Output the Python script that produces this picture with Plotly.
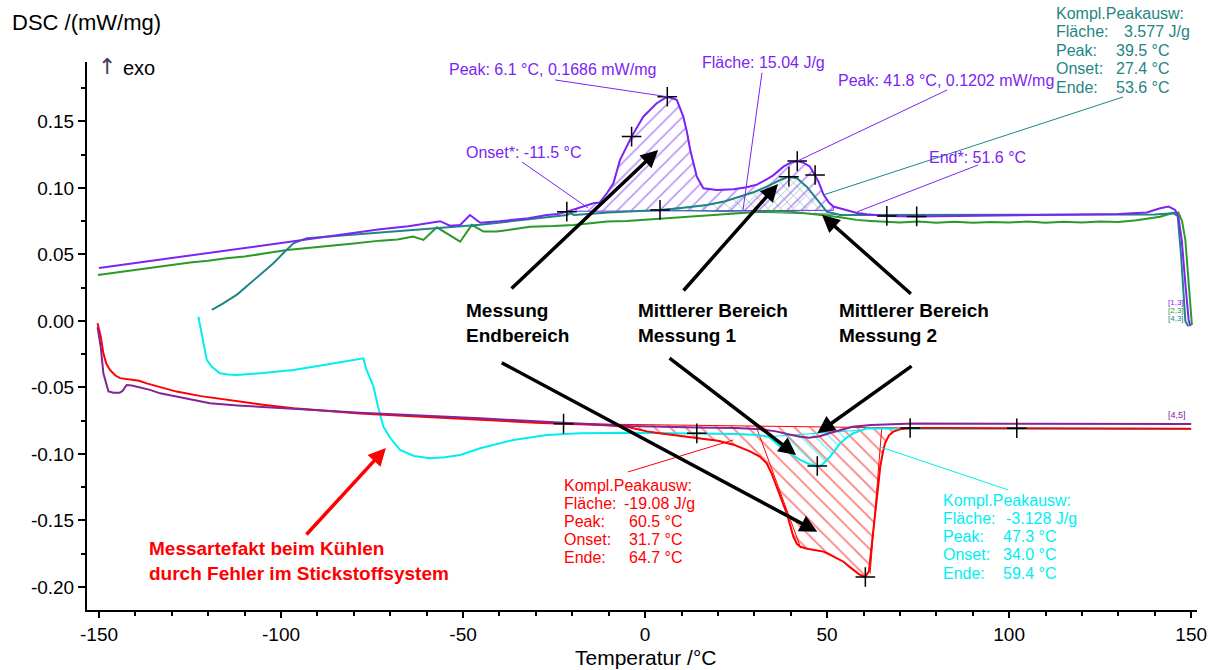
import numpy as np
import plotly.graph_objects as go

FONT = "Liberation Sans, Arial, sans-serif"

VIOLET = "#7b24f5"
TEAL = "#1f8585"
GREEN = "#2a9a2a"
RED = "#ff0000"
PURPLE = "#842494"
CYAN = "#00eef2"

# ---------------- DSC curves: temperature (°C) / DSC (mW/mg) ----------------
# heating run, end range (violet)
violet_T = [-150, -140, -130, -120, -110, -100, -90, -80, -72.8, -65, -61, -59.1, -56.3, -53.6,
            -50.8, -48.1, -45.3, -40, -36.2, -32, -27, -24, -21.5, -17, -14.2, -12.5, -10.5,
            -8.7, -6.9, -3.7, -0.5, 3.2, 6.1, 8.7, 10.5, 11.5, 12.4, 14.2, 16.0, 19.7, 24.3,
            27.9, 30.7, 33.4, 35.2, 38.0, 39.8, 41.8, 43.5, 45.3, 46.7, 47.6, 49.0, 50.5, 51.7,
            55.4, 58.2, 60.9, 64.6, 66.4, 74.6, 90, 110, 130, 137.8, 141.5, 143.8, 145.6,
            146.5, 147.4, 148.5, 149.3, 149.8]
violet_dsc = [0.0398, 0.0436, 0.0472, 0.0511, 0.0549, 0.0585, 0.0625, 0.0660, 0.0689, 0.0712,
              0.0728, 0.0740, 0.0750, 0.0716, 0.0722, 0.0797, 0.0739, 0.0750, 0.0759, 0.0772,
              0.0797, 0.0805, 0.0822, 0.0858, 0.0885, 0.0890, 0.0960, 0.1035, 0.1210, 0.1386,
              0.1536, 0.1637, 0.1686, 0.1662, 0.1536, 0.1420, 0.1286, 0.1085, 0.0997, 0.0985,
              0.0990, 0.1005, 0.1025, 0.1065, 0.1095, 0.1160, 0.1188, 0.1202, 0.1190, 0.1160,
              0.1098, 0.1050, 0.0950, 0.0890, 0.0860, 0.0830, 0.0812, 0.0802, 0.0792, 0.0790,
              0.0786, 0.0790, 0.0795, 0.0805, 0.0815, 0.0847, 0.0860, 0.0835, 0.0780, 0.0610,
              0.0250, 0.0008, -0.0040]

# heating run, middle range 1 (teal)
teal_T = [-119.0, -116, -112, -109.4, -105.5, -102.1, -99, -96.6, -94, -92.9, -85, -72.8, -60,
          -45.3, -30, -21.5, -20.5, -19.5, -10, 4.1, 10, 17, 22, 26.1, 30, 33.4, 37.1, 39.5,
          41.7, 44.4, 47.2, 49.9, 53.6, 60, 100, 140, 145, 146.3, 147.2, 148.4, 149.2]
teal_dsc = [0.0083, 0.0130, 0.0200, 0.0262, 0.0350, 0.0434, 0.0520, 0.0584, 0.0612, 0.0622,
            0.0638, 0.0664, 0.0692, 0.0724, 0.0770, 0.0797, 0.0810, 0.0797, 0.0815, 0.0835,
            0.0850, 0.0872, 0.0900, 0.0935, 0.0970, 0.1010, 0.1060, 0.1085, 0.1073, 0.1010,
            0.0910, 0.0822, 0.0797, 0.0797, 0.0797, 0.0800, 0.0810, 0.0790, 0.0500, 0.0000,
            -0.0040]

# heating run, middle range 2 (green)
green_T = [-150.3, -145, -140, -135, -130, -125, -120, -115, -110, -105, -98.4, -92, -85, -80,
           -72.8, -68, -63.7, -60.9, -57.2, -54.5, -50.8, -47.6, -44.4, -40.7, -36.2, -31.6,
           -25.2, -19.7, -15, -10.5, -5, -1.4, 3, 7.8, 12, 17, 22, 26, 31, 35, 40, 44, 49,
           53.6, 58, 62, 65, 70, 75, 80, 85, 90, 95, 100, 105, 110, 115, 120, 125, 130, 135,
           139, 141.5, 143.5, 145.1, 146.5, 147.5, 148.4, 149.3, 150.2]
green_dsc = [0.0346, 0.0366, 0.0381, 0.0403, 0.0417, 0.0439, 0.0453, 0.0472, 0.0484, 0.0506,
             0.0534, 0.0550, 0.0572, 0.0583, 0.0604, 0.0613, 0.0634, 0.0609, 0.0704, 0.0660,
             0.0596, 0.0722, 0.0672, 0.0672, 0.0690, 0.0709, 0.0714, 0.0722, 0.0735, 0.0747,
             0.0752, 0.0759, 0.0766, 0.0772, 0.0782, 0.0790, 0.0802, 0.0812, 0.0822, 0.0827,
             0.0822, 0.0812, 0.0795, 0.0780, 0.0760, 0.0752, 0.0748, 0.0740, 0.0747, 0.0739,
             0.0746, 0.0738, 0.0745, 0.0740, 0.0747, 0.0739, 0.0746, 0.0740, 0.0748, 0.0745,
             0.0757, 0.0772, 0.0784, 0.0800, 0.0814, 0.0815, 0.0750, 0.0610, 0.0300, -0.0030]

# cooling run, end range (red)
red_T = [-150.4, -149.5, -148.8, -148, -147, -145.5, -144.2, -141.5, -139, -136.9, -132, -128.7,
         -122, -115, -105, -96.6, -87, -78.3, -60, -45, -37, -30, -22.4, -12, -5, 0.5, 5, 9.6,
         14.2, 20, 24.3, 28.8, 31.5, 33.4, 34.8, 36.2, 37.6, 38.9, 40.0, 40.7, 41.7, 42.6, 44.5,
         46.2, 47.6, 49.0, 50.3, 51.7, 53.0, 54.5, 56.0, 57.2, 58.8, 60.5, 61.5, 62.0, 62.7,
         63.7, 64.6, 65.3, 65.9, 67.0, 68.2, 70.0, 72.8, 80, 100, 120, 150]
red_dsc = [-0.0017, -0.0120, -0.0243, -0.0320, -0.0368, -0.0410, -0.0430, -0.0439, -0.0450,
           -0.0469, -0.0505, -0.0531, -0.0565, -0.0594, -0.0630, -0.0657, -0.0678, -0.0695,
           -0.0722, -0.0745, -0.0758, -0.0765, -0.0772, -0.0782, -0.0795, -0.0830, -0.0848,
           -0.0865, -0.0880, -0.0900, -0.0930, -0.0980, -0.1020, -0.1070, -0.1150, -0.1246,
           -0.1350, -0.1446, -0.1550, -0.1620, -0.1675, -0.1697, -0.1712, -0.1720, -0.1730,
           -0.1734, -0.1750, -0.1770, -0.1790, -0.1810, -0.1845, -0.1870, -0.1905, -0.1925,
           -0.1880, -0.1750, -0.1570, -0.1320, -0.1095, -0.0990, -0.0920, -0.0860, -0.0832,
           -0.0815, -0.0805, -0.0805, -0.0807, -0.0808, -0.0810]

# cooling run, middle range 2 (purple)
purple_T = [-150.4, -149.5, -148.8, -148, -147.4, -146, -144.4, -143.6, -143, -142.4, -141,
            -139.6, -136, -133.2, -126, -119.5, -112, -105.8, -92, -78.3, -60, -45.3, -22.4,
            -4.1, 14.2, 25, 32, 36, 39, 42.6, 45, 48, 51, 54, 57, 62, 73.7, 100, 150]
purple_dsc = [-0.0047, -0.0200, -0.0393, -0.0480, -0.0530, -0.0540, -0.0540, -0.0528, -0.0500,
              -0.0481, -0.0486, -0.0494, -0.0518, -0.0544, -0.0585, -0.0619, -0.0635, -0.0644,
              -0.0668, -0.0690, -0.0712, -0.0732, -0.0765, -0.0790, -0.0800, -0.0805, -0.0815,
              -0.0830, -0.0850, -0.0870, -0.0877, -0.0866, -0.0840, -0.0815, -0.0795, -0.0782,
              -0.0770, -0.0772, -0.0775]

# cooling run, middle range 1 with nitrogen fault (cyan)
cyan_T = [-122.7, -122.0, -121.3, -120.4, -119.0, -116.8, -114.5, -112.2, -105, -96.6, -87,
          -77.4, -76.6, -75.5, -74.6, -73.3, -71.9, -70.0, -67.3, -63.5, -59.1, -55.0, -50.8,
          -45.3, -40, -36.2, -27, -17.9, -4.1, 14.2, 25, 31, 34.0, 37.1, 40, 42.6, 45, 47.3,
          48.5, 50.8, 53.6, 55.5, 57.2, 59.4, 60.9, 70, 150]
cyan_dsc = [0.0032, -0.0060, -0.0170, -0.0293, -0.0345, -0.0393, -0.0403, -0.0406, -0.0392,
            -0.0368, -0.0326, -0.0281, -0.0360, -0.0430, -0.0494, -0.0650, -0.0794, -0.0880,
            -0.0970, -0.1015, -0.1032, -0.1025, -0.1008, -0.0957, -0.0920, -0.0895, -0.0857,
            -0.0845, -0.0840, -0.0845, -0.0850, -0.0858, -0.0870, -0.0945, -0.0995, -0.1045,
            -0.1075, -0.1090, -0.1085, -0.1020, -0.0920, -0.0875, -0.0845, -0.0820, -0.0807,
            -0.0810, -0.0812]

# evaluation marks (temperatures of the "+" markers on each curve)
violet_marks = [-21.5, -3.7, 6.1, 41.8, 46.7, 66.4, 74.6]
teal_marks = [4.1, 39.5]
red_marks = [-22.4, 60.5, 72.8, 102.1]
cyan_marks = [14.2, 47.3]

# integration limits and baseline values of the hatched peak areas
violet_area = (-19.0, 51.7, 0.0825, 0.0832)
teal_area = (4.1, 55.0, 0.0835, 0.0800)
red_area = (-22.4, 72.8, None, None)
cyan_area = (34.0, 59.4, None, None)

# red onset / end tangents
red_tangent_T = [[30.6, 42.8], [65.0, 61.8]]
red_tangent_dsc = [[-0.0800, -0.1710], [-0.0807, -0.1900]]

x_ticks = [-150, -100, -50, 0, 50, 100, 150]
x_ticktext = ["-150", "-100", "-50", "0", "50", "100", "150"]
y_ticks = [-0.20, -0.15, -0.10, -0.05, 0.00, 0.05, 0.10, 0.15]
y_ticktext = ["-0.20", "-0.15", "-0.10", "-0.05", "0.00", "0.05", "0.10", "0.15"]

# ---------------- figure geometry ----------------
W, H = 1220, 670
L, R, T, B = 87, 23, 62, 60
PW, PH = W - L - R, H - T - B


def at(px, py):
    """pixel position on the page -> paper coordinates"""
    return (px - L) / PW, (H - B - py) / PH


def area_polygon(Tc, vc, spec):
    t0, t1, b0, b1 = spec
    Tc = np.asarray(Tc, float)
    vc = np.asarray(vc, float)
    inside = (Tc > t0) & (Tc < t1)
    y0, y1 = np.interp(t0, Tc, vc), np.interp(t1, Tc, vc)
    if b0 is None:
        b0, b1 = y0, y1
    xs = np.concatenate([[t0], Tc[inside], [t1, t1, t0, t0]])
    ys = np.concatenate([[y0], vc[inside], [y1, b1, b0, y0]])
    return xs, ys


fig = go.Figure()

# hatched peak areas
for Tc, vc, spec, col, shp, sz in [
    (violet_T, violet_dsc, violet_area, VIOLET, "/", 10),
    (teal_T, teal_dsc, teal_area, TEAL, "x", 9),
    (red_T, red_dsc, red_area, RED, "\\", 11),
    (cyan_T, cyan_dsc, cyan_area, CYAN, "\\", 10),
]:
    xs, ys = area_polygon(Tc, vc, spec)
    fig.add_trace(go.Scatter(
        x=xs, y=ys, mode="lines", fill="toself", fillcolor="rgba(0,0,0,0)",
        fillpattern=dict(shape=shp, fgcolor=col, bgcolor="rgba(0,0,0,0)", size=sz,
                         solidity=0.16),
        line=dict(color=col, width=1), hoverinfo="skip", showlegend=False))

for tx, ty in zip(red_tangent_T, red_tangent_dsc):
    fig.add_trace(go.Scatter(x=tx, y=ty, mode="lines", line=dict(color=RED, width=1),
                             hoverinfo="skip", showlegend=False))

# curves
for Tc, vc, col in [
    (green_T, green_dsc, GREEN),
    (teal_T, teal_dsc, TEAL),
    (violet_T, violet_dsc, VIOLET),
    (cyan_T, cyan_dsc, CYAN),
    (red_T, red_dsc, RED),
    (purple_T, purple_dsc, PURPLE),
]:
    fig.add_trace(go.Scatter(x=Tc, y=vc, mode="lines", line=dict(color=col, width=2),
                             showlegend=False))

# evaluation crosses
mx, my = [], []
for Tc, vc, marks in [(violet_T, violet_dsc, violet_marks), (teal_T, teal_dsc, teal_marks),
                      (red_T, red_dsc, red_marks), (cyan_T, cyan_dsc, cyan_marks)]:
    mx += list(marks)
    my += list(np.interp(marks, Tc, vc))
fig.add_trace(go.Scatter(x=mx, y=my, mode="markers", showlegend=False,
                         marker=dict(symbol="cross-thin", size=14, color="black",
                                     line=dict(color="black", width=1.5))))

# leader lines from the labels to the curves
leaders = [
    ((-24.7, 0.1812), (6.1, 0.1686), VIOLET),
    ((-33.8, 0.1195), (-15.7, 0.0850), VIOLET),
    ((32.1, 0.1865), (26.9, 0.0835), VIOLET),
    ((83.0, 0.1737), (41.8, 0.1202), VIOLET),
    ((91.5, 0.1173), (58.2, 0.0820), VIOLET),
    ((131.3, 0.1684), (48.9, 0.0947), TEAL),
    ((-4.7, -0.1135), (24.2, -0.0895), RED),
    ((99.7, -0.1270), (64.6, -0.0947), CYAN),
]
shapes = [dict(type="line", xref="x", yref="y", x0=a[0], y0=a[1], x1=b[0], y1=b[1],
               line=dict(color=c, width=1)) for a, b, c in leaders]

annotations = []


def label(text, px, py, color, size=16, bold=False, anchor="left", family=FONT):
    xp, yp = at(px, py)
    annotations.append(dict(
        text=f"<b>{text}</b>" if bold else text, x=xp, y=yp, xref="paper", yref="paper",
        xanchor=anchor, yanchor="middle", showarrow=False,
        font=dict(family=family, size=size, color=color)))


# axis titles
label("DSC /(mW/mg)", 10, 22, "black", size=22)
label("↑", 107, 67, "#3c3c50", size=22, anchor="center", family="DejaVu Sans, sans-serif")
label("exo", 121, 68, "black", size=20)
label("Temperatur /°C", 645, 658, "black", size=21, anchor="center")

# violet evaluation texts
label("Peak: 6.1 °C, 0.1686 mW/mg", 447, 70, VIOLET)
label("Onset*: -11.5 °C", 464, 152, VIOLET)
label("Fläche: 15.04 J/g", 700, 63, VIOLET)
label("Peak: 41.8 °C, 0.1202 mW/mg", 836, 80, VIOLET)
label("End*: 51.6 °C", 927, 157, VIOLET)


def block(x0, x1, y0, dy, values, color):
    names = ["Fläche:", "Peak:", "Onset:", "Ende:"]
    label("Kompl.Peakausw:", x0, y0, color)
    for i, (n, v) in enumerate(zip(names, values)):
        label(n, x0, y0 + dy * (i + 1), color)
        label(v, x1[i], y0 + dy * (i + 1), color)


block(1054, [1122, 1114, 1114, 1114], 13, 18.6, ["3.577 J/g", "39.5 °C", "27.4 °C", "53.6 °C"], TEAL)
block(562, [622, 627, 627, 627], 485, 18.0, ["-19.08 J/g", "60.5 °C", "31.7 °C", "64.7 °C"], RED)
block(941, [1004, 1001, 1001, 1001], 500, 18.3, ["-3.128 J/g", "47.3 °C", "34.0 °C", "59.4 °C"], CYAN)

# bold explanations
label("Messung", 464, 310, "black", size=19, bold=True)
label("Endbereich", 464, 335, "black", size=19, bold=True)
label("Mittlerer Bereich", 636, 310, "black", size=19, bold=True)
label("Messung 1", 636, 335, "black", size=19, bold=True)
label("Mittlerer Bereich", 837, 310, "black", size=19, bold=True)
label("Messung 2", 837, 335, "black", size=19, bold=True)
label("Messartefakt beim Kühlen", 147, 548, RED, size=19, bold=True)
label("durch Fehler im Stickstoffsystem", 147, 573, RED, size=19, bold=True)

# curve end tags
label("[1,3]", 1166, 302, VIOLET, size=8)
label("[2,3]", 1166, 310, GREEN, size=8)
label("[4,3]", 1166, 318, TEAL, size=8)
label("[4,5]", 1166, 415, PURPLE, size=9)

# pointer arrows (tail -> head, data units)
arrows = [
    ((-37.1, 0.0233), (3.6, 0.1286), "black"),
    ((-39.8, -0.0308), (47.3, -0.1585), "black"),
    ((10.2, 0.0218), (36.5, 0.1030), "black"),
    ((6.3, -0.0271), (41.5, -0.1008), "black"),
    ((73.4, 0.0195), (48.6, 0.0797), "black"),
    ((73.6, -0.0331), (47.3, -0.0845), "black"),
    ((-93.4, -0.1617), (-71.2, -0.0955), RED),
]
for tail, head, col in arrows:
    annotations.append(dict(
        x=head[0], y=head[1], ax=tail[0], ay=tail[1], xref="x", yref="y", axref="x", ayref="y",
        text="", showarrow=True, arrowhead=2, arrowsize=1.0, arrowwidth=3.5, arrowcolor=col,
        standoff=0, startstandoff=0))

axis_common = dict(showline=True, linecolor="black", linewidth=2, showgrid=False, zeroline=False,
                   ticks="outside", tickcolor="black", tickwidth=2, mirror=False,
                   tickfont=dict(family=FONT, size=19, color="black"))

fig.update_layout(
    width=W, height=H, autosize=False,
    margin=dict(l=L, r=R, t=T, b=B, pad=0),
    paper_bgcolor="white", plot_bgcolor="white",
    font=dict(family=FONT),
    showlegend=False,
    xaxis=dict(range=[-153.3, 151.6], tickmode="array", tickvals=x_ticks, ticktext=x_ticktext,
               ticklen=6,
               minor=dict(tickmode="array", tickvals=[t for t in range(-150, 151, 10) if t % 50],
                          ticks="outside", ticklen=4, tickwidth=1.5, tickcolor="black"),
               **axis_common),
    yaxis=dict(range=[-0.2173, 0.1947], tickmode="array", tickvals=y_ticks, ticktext=y_ticktext,
               ticklen=7,
               minor=dict(tickmode="array", tickvals=list(np.arange(-0.175, 0.19, 0.05)),
                          ticks="outside", ticklen=4, tickwidth=1.5, tickcolor="black"),
               **axis_common),
    shapes=shapes,
    annotations=annotations,
)

fig.write_html("out.html")
